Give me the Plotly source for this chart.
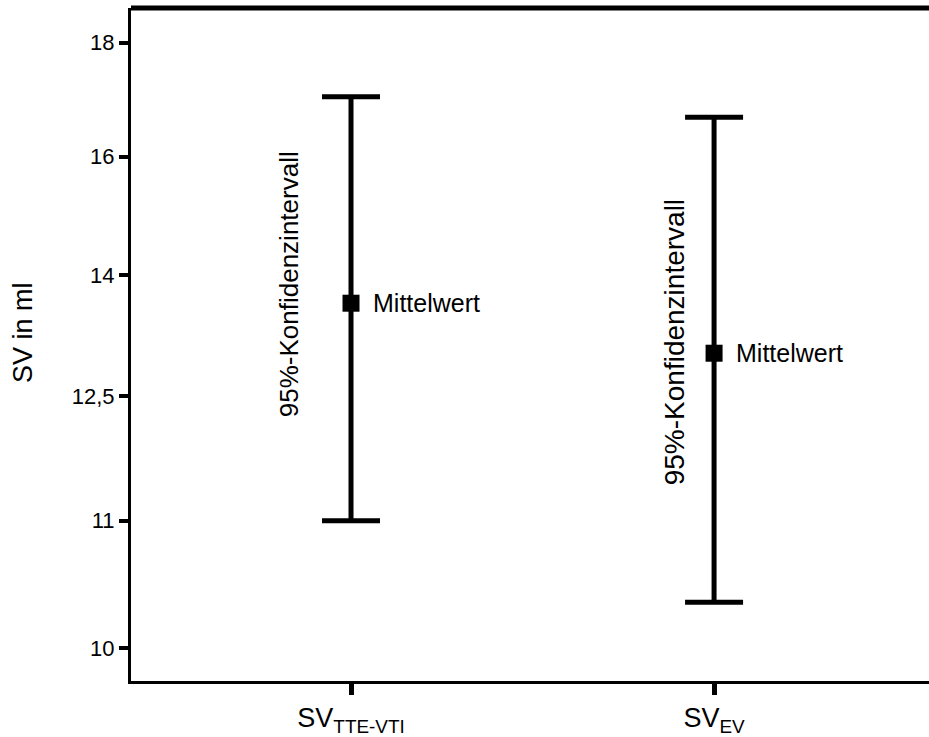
import numpy as np
import plotly.graph_objects as go

# ---- data ----
categories = ["SV<sub>TTE-VTI</sub>", "SV<sub>EV</sub>"]
mean_values = [13.65, 13.03]
ci_upper = [17.05, 16.69]
ci_lower = [11.00, 10.36]

y_tick_values = [10, 11, 12.5, 14, 16, 18]
y_tick_labels = ["10", "11", "12,5", "14", "16", "18"]
# the original axis places its labels almost evenly, not proportionally to value:
# slot position of each labelled value on the axis
y_tick_slots = [0.0, 1.0535, 2.083, 3.082, 4.059, 5.0]

mean_label = "Mittelwert"
ci_label = "95%-Konfidenzintervall"
y_title = "SV in ml"


def to_axis(v):
    return np.interp(v, y_tick_values, y_tick_slots)


mean_pos = to_axis(np.array(mean_values))
up_pos = to_axis(np.array(ci_upper))
lo_pos = to_axis(np.array(ci_lower))

FONT = "Liberation Sans, Arial, sans-serif"

fig = go.Figure()
fig.add_trace(go.Scatter(
    x=categories,
    y=mean_pos,
    mode="markers",
    marker=dict(symbol="square", size=17, color="black"),
    error_y=dict(
        type="data",
        symmetric=False,
        array=up_pos - mean_pos,
        arrayminus=mean_pos - lo_pos,
        color="black",
        thickness=5,
        width=29,
    ),
    showlegend=False,
    hoverinfo="skip",
))

annotations = []
ci_shift_x = [-62, -40]
ci_shift_y = [19, 11]
ci_font = [26, 28]
for i, cat in enumerate(categories):
    annotations.append(dict(
        x=cat, y=mean_pos[i], xref="x", yref="y",
        text=mean_label, showarrow=False,
        xanchor="left", yanchor="middle", xshift=20,
        font=dict(family=FONT, size=25, color="black"),
    ))
    annotations.append(dict(
        x=cat, y=mean_pos[i], xref="x", yref="y",
        text=ci_label, showarrow=False, textangle=-90,
        xanchor="center", yanchor="middle",
        xshift=ci_shift_x[i], yshift=ci_shift_y[i],
        font=dict(family=FONT, size=ci_font[i], color="black"),
    ))

annotations.append(dict(
    x=0, y=0.517, xref="paper", yref="paper",
    text=y_title, showarrow=False, textangle=-90,
    xanchor="center", yanchor="middle", xshift=-108,
    font=dict(family=FONT, size=27, color="black"),
))

fig.update_layout(
    width=929, height=737,
    margin=dict(l=131, r=0, t=8, b=56, pad=0),
    paper_bgcolor="white", plot_bgcolor="white",
    font=dict(family=FONT, color="black"),
    annotations=annotations,
    shapes=[dict(type="line", xref="paper", yref="paper",
                 x0=0, x1=1, y0=1, y1=1,
                 line=dict(color="black", width=5))],
)
fig.update_xaxes(
    type="category",
    range=[-0.606, 1.592],
    showline=True, linecolor="black", linewidth=3,
    ticks="outside", ticklen=11, tickwidth=5, tickcolor="black",
    showgrid=False, zeroline=False,
    tickfont=dict(family=FONT, size=27, color="black"),
)
fig.update_yaxes(
    range=[-0.270, 5.286],
    tickvals=y_tick_slots, ticktext=y_tick_labels,
    showline=True, linecolor="black", linewidth=3,
    ticks="outside", ticklen=9, tickwidth=4, tickcolor="black",
    showgrid=False, zeroline=False,
    tickfont=dict(family=FONT, size=22, color="black"),
)

fig.write_html(
    "out.html",
    config={"displayModeBar": False, "staticPlot": True},
    post_script="document.body.style.margin='0';document.body.style.overflow='hidden';",
)
